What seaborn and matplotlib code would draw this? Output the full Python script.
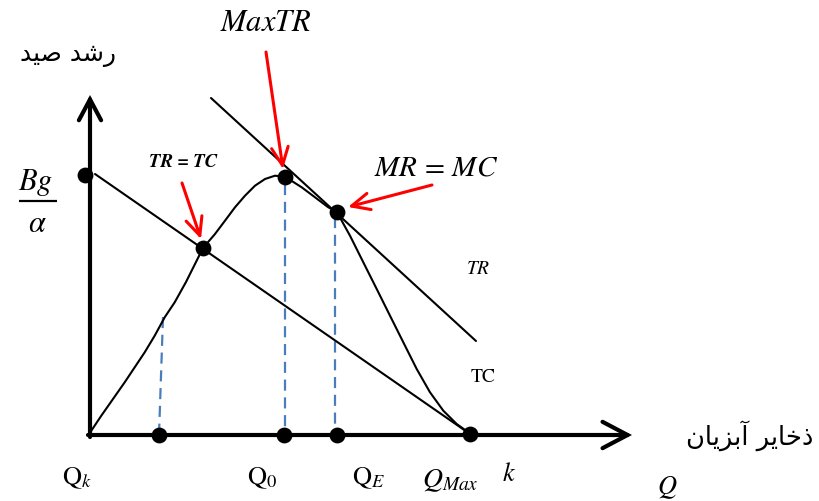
import matplotlib
matplotlib.use("Agg")
import matplotlib.pyplot as plt
import seaborn as sns

# ---- curve data (quantity Q on x, value on y, diagram units) ----
# Total revenue curve TR
tr_q = [0.0, 0.13, 1.13, 2.3, 3.47, 4.47, 5.47, 6.47, 7.47, 8.47, 9.6,
        11.3, 12.5, 13.5, 14.5, 15.5, 16.5, 17.5, 18.5, 19.5, 21.17, 22.5, 23.83,
        24.67, 26.0, 27.33, 28.67, 30.0, 31.33, 32.67, 34.0, 35.33, 36.67, 37.83, 38.0]
tr_v = [0.0, 0.43, 1.93, 3.6, 5.27, 6.77, 8.27, 9.93, 11.77, 13.27, 15.3,
        18.7, 20.1, 21.43, 22.77, 23.93, 24.93, 25.6, 25.93, 25.83, 24.77, 23.77, 22.77,
        22.33, 19.93, 17.27, 14.6, 11.93, 9.27, 6.6, 4.27, 2.43, 1.1, 0.27, 0.1]

# Total cost line TC (from Bg/alpha down to Q_Max)
tc_q = [0.5, 38.0]
tc_v = [26.1, 0.1]

# Line tangent to TR at MR = MC
tan_q = [12.1, 38.6]
tan_v = [33.7, 9.4]

# Marked points: Bg/alpha, TR=TC, Max TR, MR=MC, Q_k, Q_0, Q_E, Q_Max
pt_q = [-0.5, 11.3, 19.5, 24.7, 6.9, 19.4, 24.7, 38.0]
pt_v = [26.0, 18.7, 25.8, 22.3, 0.0, 0.0, 0.0, 0.1]

# Vertical drop lines to the quantity axis
drop_top_q = [7.3, 19.5, 24.5]
drop_top_v = [11.8, 25.1, 21.8]
drop_base_q = [6.9, 19.5, 24.5]

# Axis extents
y_axis_top = 34.0
x_axis_end = 54.2

# Labels
y_title = "رشد صید"
x_title = "ذخایر آبزیان"

# ---- minimal Persian shaping (presentation forms, visual order) ----
FORMS = {  # isolated, final, initial, medial
    "ا": ("\uFE8D", "\uFE8E", None, None),
    "آ": ("\uFE81", "\uFE82", None, None),
    "ب": ("\uFE8F", "\uFE90", "\uFE91", "\uFE92"),
    "خ": ("\uFEA5", "\uFEA6", "\uFEA7", "\uFEA8"),
    "د": ("\uFEA9", "\uFEAA", None, None),
    "ذ": ("\uFEAB", "\uFEAC", None, None),
    "ر": ("\uFEAD", "\uFEAE", None, None),
    "ز": ("\uFEAF", "\uFEB0", None, None),
    "ش": ("\uFEB5", "\uFEB6", "\uFEB7", "\uFEB8"),
    "ص": ("\uFEB9", "\uFEBA", "\uFEBB", "\uFEBC"),
    "ن": ("\uFEE5", "\uFEE6", "\uFEE7", "\uFEE8"),
    "ی": ("\uFBFC", "\uFBFD", "\uFBFE", "\uFBFF"),
}


def shape(text):
    out = []
    for i, ch in enumerate(text):
        if ch not in FORMS:
            out.append(ch)
            continue
        prev = text[i - 1] if i > 0 else ""
        nxt = text[i + 1] if i + 1 < len(text) else ""
        iso, fin, ini, med = FORMS[ch]
        jp = prev in FORMS and FORMS[prev][2] is not None
        jn = nxt in FORMS and ini is not None
        if jp and jn:
            out.append(med)
        elif jp:
            out.append(fin)
        elif jn:
            out.append(ini)
        else:
            out.append(iso)
    return "".join(reversed(out))


sns.set_theme(style="white")
plt.rcParams["font.family"] = ["DejaVu Sans"]
plt.rcParams["mathtext.fontset"] = "stix"
plt.rcParams["text.color"] = "black"

fig = plt.figure(figsize=(8.19, 5.02), dpi=100)
ax = fig.add_axes([0, 0, 1, 1])
ax.set_xlim(-9.0, 72.9)
ax.set_ylim(-6.6, 43.6)
ax.axis("off")

# Axes with open arrowheads
ax.annotate("", xy=(0, y_axis_top), xytext=(0, -0.2),
            arrowprops=dict(arrowstyle="->,head_length=1.5,head_width=0.8",
                            lw=3, color="black", shrinkA=0, shrinkB=0,
                            mutation_scale=10, joinstyle="miter"))
ax.annotate("", xy=(x_axis_end, 0), xytext=(-0.2, 0),
            arrowprops=dict(arrowstyle="->,head_length=1.8,head_width=0.95",
                            lw=3, color="black", shrinkA=0, shrinkB=0,
                            mutation_scale=10, joinstyle="miter"))

# Drop lines
for tq, tv, bq in zip(drop_top_q, drop_top_v, drop_base_q):
    sns.lineplot(x=[tq, bq], y=[tv, 0.0], ax=ax, color="#4a7ebb", lw=1.6,
                 linestyle=(0, (5, 3)), sort=False, estimator=None)

# Curves
line_kw = dict(ax=ax, color="black", lw=1.5, sort=False, estimator=None,
               solid_joinstyle="round", solid_capstyle="round")
sns.lineplot(x=tr_q, y=tr_v, **line_kw)
sns.lineplot(x=tc_q, y=tc_v, **line_kw)
sns.lineplot(x=tan_q, y=tan_v, **line_kw)

# Points
sns.scatterplot(x=pt_q, y=pt_v, ax=ax, color="black", s=130, edgecolor="black",
                linewidth=0, zorder=5)

# Red pointers
red = dict(arrowstyle="->,head_length=1.3,head_width=0.6", lw=2.2, color="#ff0000",
           shrinkA=0, shrinkB=0, mutation_scale=10)
ax.annotate("", xy=(19.3, 26.6), xytext=(17.6, 38.3), arrowprops=red)
ax.annotate("", xy=(11.1, 19.6), xytext=(9.2, 25.2), arrowprops=red)
ax.annotate("", xy=(25.8, 22.8), xytext=(34.2, 25.0), arrowprops=red)

# Text
ax.text(17.6, 41.4, r"$MaxTR$", fontsize=22, ha="center", va="center")
ax.text(9.3, 27.4, "TR = TC", fontsize=13.5, family="STIXGeneral", style="italic",
        weight="bold", ha="center", va="center")
ax.text(34.6, 26.8, r"$MR\,=\,MC$", fontsize=21, ha="center", va="center")

# Bg / alpha as a stacked fraction
ax.text(-5.4, 25.3, r"$Bg$", fontsize=22, ha="center", va="center")
ax.plot([-7.1, -3.3], [23.4, 23.4], color="black", lw=1.6, solid_capstyle="butt")
ax.text(-5.3, 21.3, r"$\alpha$", fontsize=22, ha="center", va="center")

ax.text(38.8, 16.8, r"$TR$", fontsize=14, ha="center", va="center")
ax.text(39.3, 5.9, r"$\mathrm{TC}$", fontsize=14, ha="center", va="center")
ax.text(-1.3, -4.2, r"$\mathrm{Q}_k$", fontsize=19, ha="center", va="center")
ax.text(17.2, -4.2, r"$\mathrm{Q}_0$", fontsize=19, ha="center", va="center")
ax.text(27.9, -4.2, r"$\mathrm{Q}_E$", fontsize=19, ha="center", va="center")
ax.text(36.0, -4.4, r"$Q_{Max}$", fontsize=20, ha="center", va="center")
ax.text(41.9, -3.8, r"$k$", fontsize=19, ha="center", va="center")
ax.text(57.7, -5.2, r"$Q$", fontsize=19, ha="center", va="center")
ax.text(-2.2, 38.1, shape(y_title), fontsize=18, family=["DejaVu Sans"],
        ha="center", va="center")
ax.text(72.3, 0.0, shape(x_title), fontsize=18.5, family=["DejaVu Sans"],
        ha="right", va="center")

fig.savefig("out.png", dpi=100)
